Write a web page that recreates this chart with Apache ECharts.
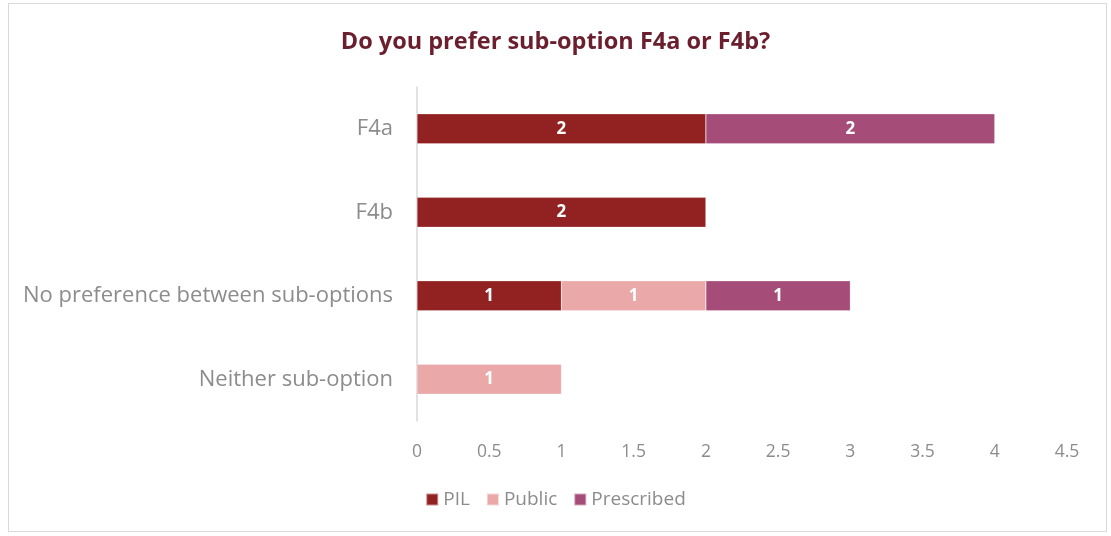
<!DOCTYPE html>
<html>
<head>
<meta charset="utf-8">
<script src="https://cdn.jsdelivr.net/npm/echarts@6/dist/echarts.min.js"></script>
<style>
  html, body { margin: 0; padding: 0; background: #fff; }
  #frame { position: absolute; left: 8px; top: 3px; width: 1099px; height: 529px; border: 1px solid #d9d9d9; box-sizing: border-box; }
  #chart { position: absolute; left: 0; top: 0; width: 1111px; height: 536px; }
</style>
</head>
<body>
<div id="frame"></div>
<div id="chart"></div>
<script>
// Survey responses per category, stacked by respondent group
const categories = ['F4a', 'F4b', 'No preference between sub-options', 'Neither sub-option'];
const pil        = [2, 2, 1, null];
const publicResp = [null, null, 1, 1];
const prescribed = [2, null, 1, null];
const ticks = [0, 0.5, 1, 1.5, 2, 2.5, 3, 3.5, 4, 4.5];

const FONT = 'Open Sans';
const colors = { PIL: '#922222', Public: '#EAA8A8', Prescribed: '#A54C79' };

function series(name, data) {
  return {
    name, type: 'bar', stack: 'total', data, barWidth: 30,
    itemStyle: { color: colors[name], borderColor: 'rgba(255,255,255,0.5)', borderWidth: 0.5 },
    label: { show: true, position: 'inside', color: '#fff', fontWeight: 'bold', fontSize: 17, fontFamily: FONT },
    emphasis: { disabled: true }
  };
}

const chart = echarts.init(document.getElementById('chart'), null, { renderer: 'canvas' });
chart.setOption({
  animation: false,
  title: {
    text: 'Do you prefer sub-option F4a or F4b?',
    left: 'center', top: 25,
    textStyle: { color: '#6B1F2E', fontSize: 23.5, fontWeight: 'bold', fontFamily: FONT }
  },
  legend: {
    bottom: 22, left: 'center', itemWidth: 12, itemHeight: 12, itemGap: 16,
    icon: 'rect',
    textStyle: { color: '#8c8c8c', fontSize: 19, fontFamily: FONT },
    data: ['PIL', 'Public', 'Prescribed']
  },
  grid: { left: 417, right: 1111 - 1067, top: 87, bottom: 536 - 421, containLabel: false },
  xAxis: {
    type: 'value', min: 0, max: 4.5, interval: 0.5,
    axisLine: { show: false }, axisTick: { show: false }, splitLine: { show: false },
    axisLabel: {
      color: '#8c8c8c', fontSize: 17.5, fontFamily: FONT, margin: 22,
      formatter: v => String(ticks[Math.round(v * 2)])
    }
  },
  yAxis: {
    type: 'category', data: categories, inverse: true,
    axisLine: { show: true, lineStyle: { color: '#d9d9d9', width: 1.5 } },
    axisTick: { show: false },
    axisLabel: { color: '#8c8c8c', fontSize: 22, fontFamily: FONT, margin: 24 }
  },
  series: [
    series('PIL', pil),
    series('Public', publicResp),
    series('Prescribed', prescribed)
  ]
});
</script>
</body>
</html>
